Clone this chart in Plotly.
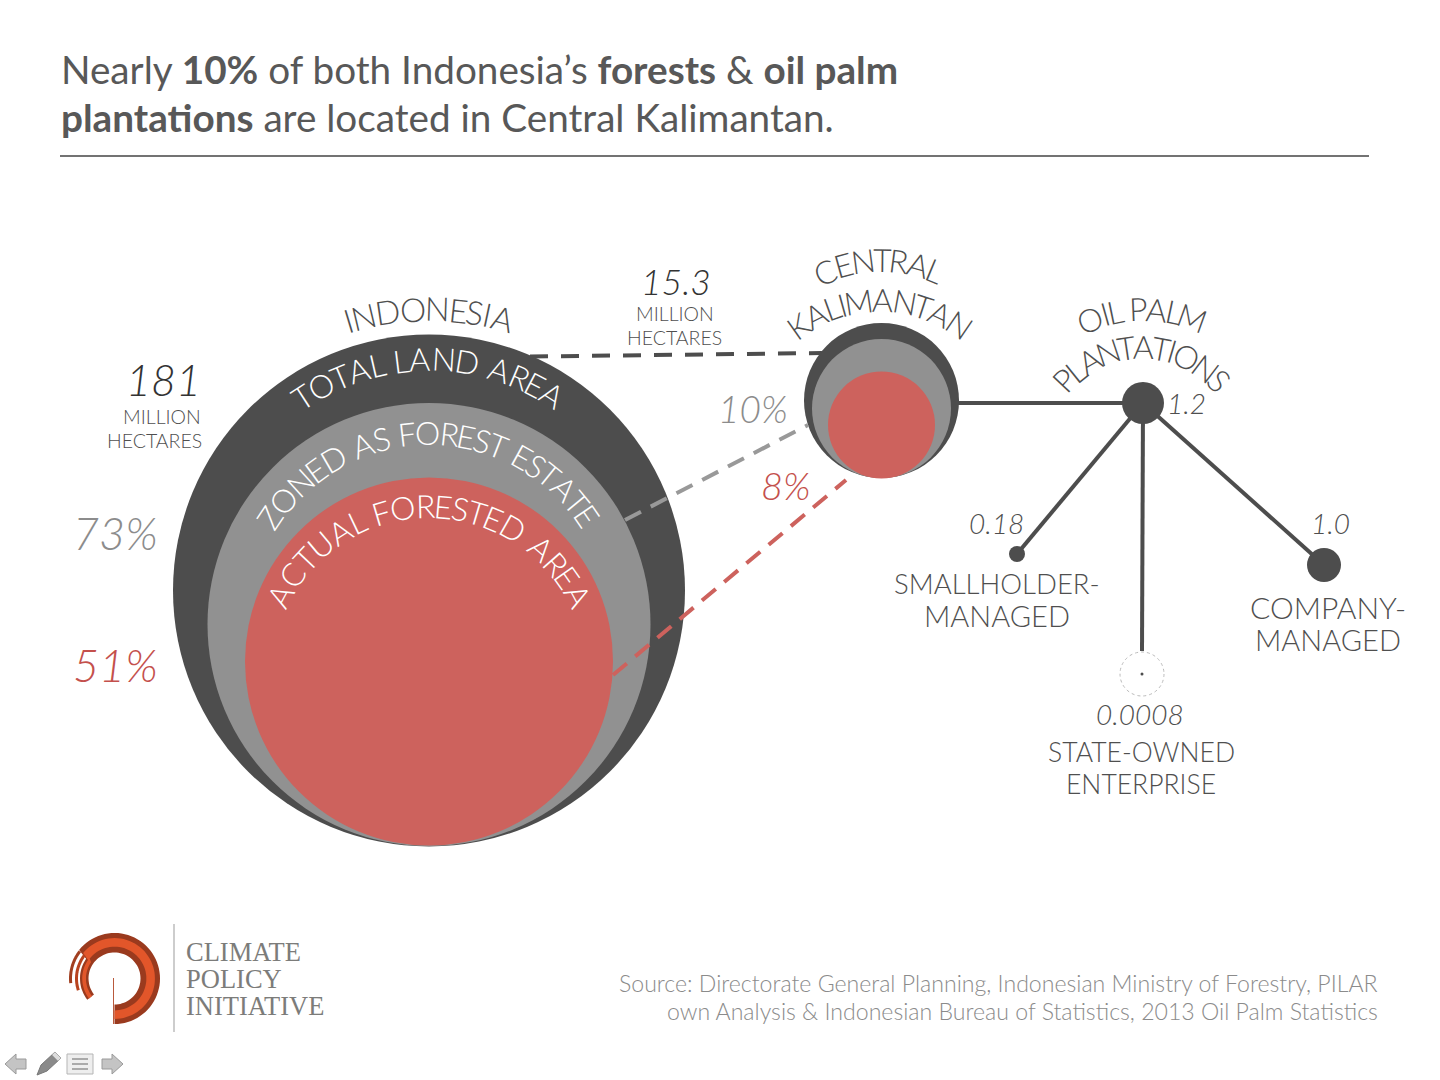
import math
import plotly.graph_objects as go

# ---- data -----------------------------------------------------------------
title_lines = ["Nearly <b>10%</b> of both Indonesia’s <b>forests</b> &amp; <b>oil palm</b>",
               "<b>plantations</b> are located in Central Kalimantan."]
source_lines = ["Source: Directorate General Planning, Indonesian Ministry of Forestry, PILAR",
                "own Analysis &amp; Indonesian Bureau of Statistics, 2013 Oil Palm Statistics"]
logo_lines = ["CLIMATE", "POLICY", "INITIATIVE"]

land_area_mha = ["181", "15.3"]
forest_estate_pct = ["73%", "10%"]
actual_forest_pct = ["51%", "8%"]
plantation_mha = ["1.2", "0.18", "1.0", "0.0008"]
plantation_names = [["SMALLHOLDER-", "MANAGED"], ["COMPANY-", "MANAGED"], ["STATE-OWNED", "ENTERPRISE"]]
unit_lines = ["MILLION", "HECTARES"]

bubble_names = ["Indonesia total land", "Indonesia forest estate", "Indonesia actual forest",
                "Kalimantan total land", "Kalimantan forest estate", "Kalimantan actual forest"]
bubble_x = [429, 429, 429, 881.5, 881.5, 881.5]
bubble_y = [590.5, 624.5, 661.5, 400.5, 408.5, 425]
bubble_diam = [512, 443, 368, 155, 139, 107]

palm_names = ["Oil palm plantations", "Smallholder-managed", "Company-managed", "State-owned enterprise"]
palm_x = [1143, 1017, 1324, 1142]
palm_y = [403, 554, 565, 674]
palm_diam = [42, 16, 34, 3]

DARK, GREY, RED = "#4d4d4d", "#919191", "#cd625d"
TXT, LGREY, RRED = "#4f4f4f", "#8c8c8c", "#c4504c"
FONT = "Lato"

fig = go.Figure()
fig.add_trace(go.Scatter(x=bubble_x, y=bubble_y, mode="markers", text=bubble_names, hoverinfo="text",
                         marker=dict(size=bubble_diam, color=[DARK, GREY, RED, DARK, GREY, RED],
                                     line=dict(width=0), opacity=1)))


def seg(xs, ys, color, dash="solid", width=4):
    fig.add_trace(go.Scatter(x=xs, y=ys, mode="lines", hoverinfo="skip",
                             line=dict(color=color, width=width, dash=dash)))


seg([530, 822], [356.5, 353], DARK, "18px,13px")
seg([625, 808], [520, 425], "#999999", "18px,11px")
seg([613, 846], [675, 480], RED, "18px,11px")
seg([957, palm_x[0]], [403, 403], DARK)
for i in (1, 2):
    seg([palm_x[0], palm_x[i]], [palm_y[0], palm_y[i]], DARK)
seg([palm_x[0], palm_x[0] - 1], [palm_y[0], 651], DARK)
fig.add_trace(go.Scatter(x=palm_x, y=palm_y, mode="markers", text=palm_names, hoverinfo="text",
                         marker=dict(size=palm_diam, color=DARK, line=dict(width=0), opacity=1)))

ann = []


def label(x, y, text, size, color=TXT, italic=False, anchor="center", weight=300, family=FONT):
    ann.append(dict(x=x, y=y - 2, text=text, showarrow=False, xref="x", yref="y", xanchor=anchor,
                    yanchor="middle", align=anchor,
                    font=dict(family=family, size=size, color=color, weight=weight,
                              style="italic" if italic else "normal")))


WIDTHS = dict(A=.70, C=.72, D=.72, E=.52, F=.48, G=.78, H=.70, I=.25, K=.62, L=.44, M=.86, N=.74,
              O=.80, P=.54, R=.56, S=.50, T=.50, U=.68, Z=.56)
WIDTHS[" "] = .30


def arc_text(text, cx, cy, r, a0, a1, size, color):
    total = sum(WIDTHS[c] for c in text)
    cum = 0
    cap = size * 0.72
    for c in text:
        w = WIDTHS[c]
        th = a0 + (a1 - a0) * (cum + w / 2) / total
        cum += w
        if c == " ":
            continue
        t = math.radians(th)
        ann.append(dict(x=cx + (r + cap / 2) * math.sin(t), y=cy - (r + cap / 2) * math.cos(t), text=c,
                        textangle=th, showarrow=False, xref="x", yref="y", xanchor="center", yanchor="middle",
                        font=dict(family=FONT, size=size, color=color, weight=300)))


arc_text("INDONESIA", 429, 590, 270, -17.5, 17.5, 33, TXT)
arc_text("TOTAL LAND AREA", 429, 590, 220, -35.2, 35.2, 32, "#ffffff")
arc_text("ZONED AS FOREST ESTATE", 429, 624.5, 180.5, -59, 58, 32, "#ffffff")
arc_text("ACTUAL FORESTED AREA", 429, 675, 158, -66, 66, 32, "#ffffff")
arc_text("CENTRAL", 881, 400, 129, -28, 25.5, 32, TXT)
arc_text("KALIMANTAN", 880, 441, 130, -39, 39, 32, TXT)
arc_text("OIL PALM", 1144, 452, 132, -27, 25, 32, TXT)
arc_text("PLANTATIONS", 1142, 453, 95, -51, 51, 32, TXT)

label(59, 71, title_lines[0], 38.7, "#585858", anchor="left", weight=400)
label(59, 119, title_lines[1], 38.7, "#585858", anchor="left", weight=400)

label(163, 381, land_area_mha[0], 43, "#333333", True)
label(162, 418, unit_lines[0], 19.5)
label(154, 442, unit_lines[1], 19.5)
label(676, 283, land_area_mha[1], 35.5, "#333333", True)
label(675, 315, unit_lines[0], 19.5)
label(674, 339, unit_lines[1], 19.5)
label(115, 535, forest_estate_pct[0], 45, LGREY, True)
label(115, 667, actual_forest_pct[0], 45, RRED, True)
label(753, 410, forest_estate_pct[1], 37, LGREY, True)
label(786, 487, actual_forest_pct[1], 38, RRED, True)
label(1186, 405, plantation_mha[0], 28, TXT, True)
label(996, 525, plantation_mha[1], 28, TXT, True)
label(1330, 525, plantation_mha[2], 28, TXT, True)
label(1140, 716, plantation_mha[3], 28, TXT, True)
label(997, 585, plantation_names[0][0], 27.5)
label(997, 617, plantation_names[0][1], 29)
label(1328, 609, plantation_names[1][0], 30)
label(1328, 641, plantation_names[1][1], 29)
label(1141, 754, plantation_names[2][0], 26.5)
label(1141, 786, plantation_names[2][1], 26.5)
label(1380, 985, source_lines[0], 23.1, "#8b8b8b", anchor="right")
label(1380, 1013, source_lines[1], 23.1, "#8b8b8b", anchor="right")
for yy, t in zip((954, 981, 1008), logo_lines):
    label(184, yy, t, 26.5, "#7c7c7a", anchor="left", weight=400, family="Liberation Serif")

shapes = [
    dict(type="line", x0=60, x1=1369, y0=156, y1=156, line=dict(color="#444444", width=1.5)),
    dict(type="line", x0=174, x1=174, y0=924, y1=1032, line=dict(color="#bdbdbd", width=1.5)),
    dict(type="circle", x0=1120, x1=1164, y0=652, y1=696, line=dict(color="#bbbbbb", width=1, dash="dot")),
]


def band(cx, cy, a0, a1, rout, rin, color):
    """Closed ring band; angles clockwise from top, radii are functions of the angle."""
    n = 72
    A = [a0 + (a1 - a0) * i / n for i in range(n + 1)]
    pts = [(cx + rout(a) * math.sin(math.radians(a)), cy - rout(a) * math.cos(math.radians(a))) for a in A]
    pts += [(cx + rin(a) * math.sin(math.radians(a)), cy - rin(a) * math.cos(math.radians(a))) for a in A[::-1]]
    path = "M " + " L ".join(f"{x:.1f},{y:.1f}" for x, y in pts) + " Z"
    shapes.append(dict(type="path", path=path, fillcolor=color, line=dict(width=0)))


def out_r(a):
    # a runs from 180 (bottom) through 90 (right), 0 (top) to -128 (lower left)
    if a >= -52:
        return 45.5
    return 34.5


def mid_r(frac):
    return lambda a: 26 + (out_r(a) - 26) * frac


C = (114.5, 978.5)
band(*C, 180, -128, out_r, lambda a: 26, "#9a3a1e")
band(*C, 180, -128, mid_r(.74), mid_r(.3), "#e2562a")
band(*C, -52, -96, lambda a: 45.5, lambda a: 42.5, "#a13f20")
band(*C, -52, -108, lambda a: 39.5, lambda a: 36.5, "#b8431f")
shapes.append(dict(type="line", x0=113.5, x1=113.5, y0=978, y1=1024, line=dict(color="#b9593c", width=1)))


def poly(pts, fill, lc="#9a9a9a", w=1):
    path = "M " + " L ".join(f"{x},{y}" for x, y in pts) + " Z"
    shapes.append(dict(type="path", path=path, fillcolor=fill, line=dict(color=lc, width=w)))


poly([(5, 1064), (16, 1054), (16, 1059), (26, 1059), (26, 1069), (16, 1069), (16, 1074)], "#c4c4c4")
poly([(102, 1059), (112, 1059), (112, 1054), (123, 1064), (112, 1074), (112, 1069), (102, 1069)], "#c4c4c4")
poly([(37, 1075), (41, 1065), (55, 1052), (61, 1058), (47, 1071)], "#8a8a8a", "#777777")
poly([(55, 1052), (61, 1058), (58, 1061), (52, 1055)], "#dddddd", "#aaaaaa")
poly([(67, 1054), (93, 1054), (93, 1074), (67, 1074)], "#eeeeee", "#b5b5b5")
for yy in (1059, 1064, 1069):
    shapes.append(dict(type="line", x0=72, x1=88, y0=yy, y1=yy, line=dict(color="#aaaaaa", width=2)))

fig.update_layout(
    width=1440, height=1080, margin=dict(l=0, r=0, t=0, b=0), showlegend=False,
    paper_bgcolor="#ffffff", plot_bgcolor="#ffffff", annotations=ann, shapes=shapes,
    xaxis=dict(range=[0, 1440], visible=False, fixedrange=True),
    yaxis=dict(range=[1080, 0], visible=False, fixedrange=True),
)
fig.write_html("out.html", config=dict(displayModeBar=False),
               post_script="document.body.style.margin='0';document.documentElement.style.overflow='hidden';")
